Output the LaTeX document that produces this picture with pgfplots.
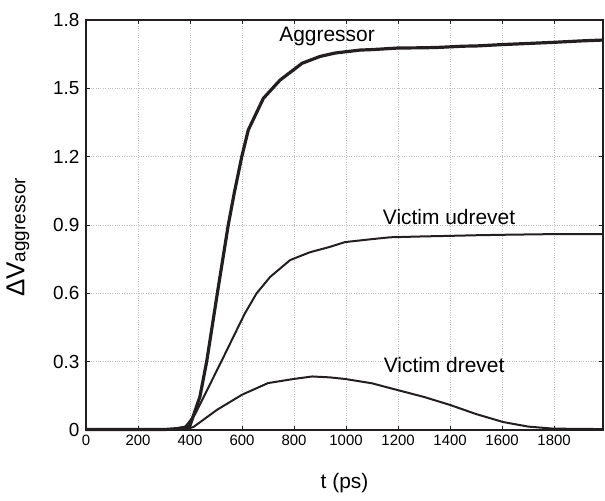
\documentclass[border=0pt]{standalone}
\usepackage{pgfplots}
\pgfplotsset{compat=1.18}
\usepackage{fontspec}
\setmainfont{Liberation Sans}
\definecolor{ink}{HTML}{231F20}

\begin{document}
\begin{tikzpicture}
\useasboundingbox (-86bp,-71bp) rectangle (519bp,430bp);
\begin{axis}[
  at={(0,0)}, anchor=south west,
  scale only axis, width=517bp, height=410bp,
  xmin=0, xmax=1988, ymin=0, ymax=1.8,
  xtick={0,200,400,600,800,1000,1200,1400,1600,1800},
  xticklabels={0,200,400,600,800,1000,1200,1400,1600,1800},
  ytick={0,0.3,0.6,0.9,1.2,1.5,1.8},
  yticklabels={0,0.3,0.6,0.9,1.2,1.5,1.8},
  xticklabel style={font=\fontsize{15}{15}\selectfont, yshift=-2bp},
  yticklabel style={font=\fontsize{19}{19}\selectfont, xshift=-3bp},
  tick align=inside, major tick length=4bp,
  tick style={ink, line width=0.8bp},
  axis line style={ink, line width=1.6bp},
  grid=major, grid style={gray!50, dotted, line width=0.6bp},
  xlabel={t (ps)},
  xlabel style={font=\fontsize{21}{21}\selectfont, at={(axis description cs:0.5,-0.129)}, anchor=center},
  ylabel={{\fontsize{26}{26}\selectfont ΔV}{\fontsize{19}{19}\selectfont\raisebox{-1bp}{aggressor}}},
  ylabel style={at={(axis description cs:-0.1315,0.47)}, anchor=center, rotate=0},
  clip=false,
]
% Aggressor
\addplot[ink, line width=3.2bp] coordinates {
 (0,0.002) (300,0.002) (350,0.006) (380,0.012) (400,0.02) (438,0.146)
 (464,0.30) (505,0.60) (547,0.90) (570,1.04) (599,1.20) (624,1.317) (682,1.456) (746,1.536)
 (831,1.61) (900,1.64) (958,1.655) (1054,1.668) (1100,1.67) (1200,1.677)
 (1300,1.678) (1362,1.68) (1450,1.685) (1500,1.686) (1600,1.692)
 (1700,1.697) (1800,1.702) (1900,1.708) (1988,1.712)
};
% Victim udrevet
\addplot[ink, line width=2bp] coordinates {
 (0,0.002) (330,0.002) (380,0.012) (420,0.07) (520,0.30) (611,0.512)
 (656,0.60) (708,0.672) (785,0.746) (860,0.78) (938,0.804) (996,0.825) (1100,0.838)
 (1169,0.846) (1300,0.85) (1388,0.852) (1500,0.855) (1600,0.857)
 (1796,0.86) (1988,0.86)
};
% Victim drevet
\addplot[ink, line width=2bp] coordinates {
 (0,0.002) (350,0.002) (390,0.006) (413,0.013) (503,0.088) (600,0.155)
 (700,0.206) (798,0.224) (870,0.235) (938,0.231) (996,0.224) (1100,0.205)
 (1169,0.184) (1300,0.145) (1400,0.11) (1500,0.07) (1604,0.035)
 (1700,0.015) (1796,0.006) (1988,0.004)
};
\node[anchor=base, font=\fontsize{21}{21}\selectfont, inner sep=0] at (axis cs:927,1.705) {Aggressor};
\node[anchor=base, font=\fontsize{21}{21}\selectfont, inner sep=0] at (axis cs:1396,0.904) {Victim udrevet};
\node[anchor=base, font=\fontsize{21}{21}\selectfont, inner sep=0] at (axis cs:1377,0.252) {Victim drevet};
\end{axis}
\end{tikzpicture}
\end{document}
